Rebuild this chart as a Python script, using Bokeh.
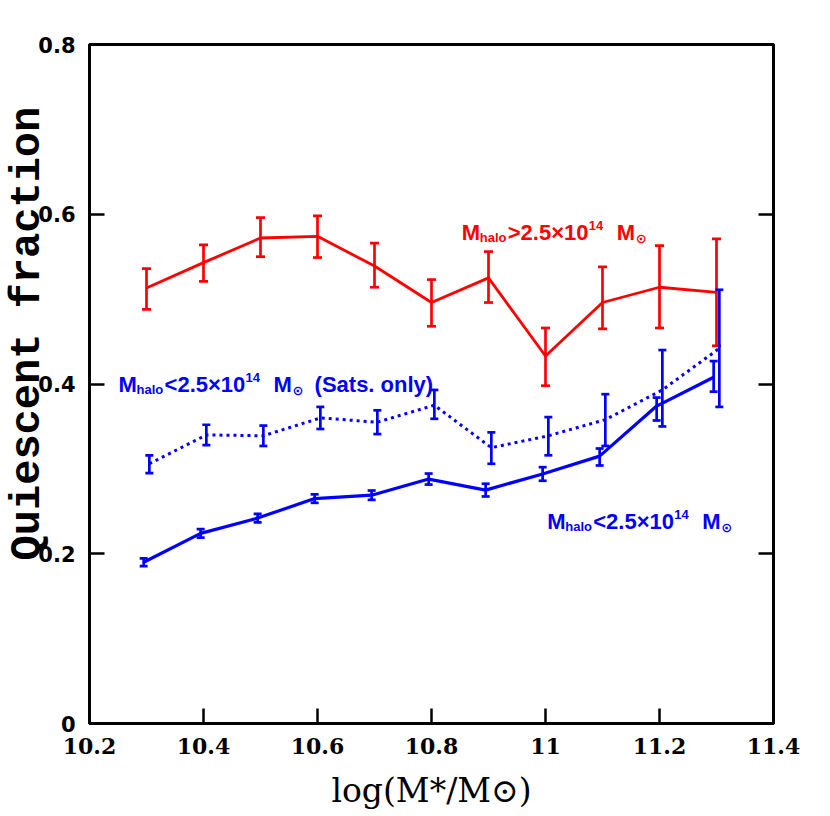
from bokeh.plotting import figure
from bokeh.models import (Range1d, FixedTicker, LinearAxis, Whisker, TeeHead,
                          ColumnDataSource, Label, CustomJSTickFormatter)
from bokeh.embed import file_html
from bokeh.resources import INLINE

# ---------------- data ----------------
logm = [10.3, 10.4, 10.5, 10.6, 10.7, 10.8, 10.9, 11.0, 11.1, 11.2, 11.3]

red_y  = [0.513, 0.543, 0.572, 0.574, 0.539, 0.496, 0.525, 0.433, 0.496, 0.514, 0.508]
red_hi = [0.536, 0.564, 0.596, 0.598, 0.566, 0.523, 0.556, 0.466, 0.538, 0.563, 0.571]
red_lo = [0.488, 0.521, 0.550, 0.549, 0.514, 0.468, 0.496, 0.398, 0.465, 0.466, 0.445]

blue_y  = [0.190, 0.224, 0.242, 0.265, 0.269, 0.288, 0.275, 0.294, 0.315, 0.374, 0.408]
blue_hi = [0.1945, 0.229, 0.247, 0.270, 0.2745, 0.2945, 0.2825, 0.302, 0.324, 0.384, 0.427]
blue_lo = [0.1855, 0.219, 0.237, 0.260, 0.2635, 0.2815, 0.2675, 0.286, 0.304, 0.357, 0.391]

sat_y  = [0.306, 0.340, 0.339, 0.360, 0.355, 0.375, 0.325, 0.339, 0.358, 0.393, 0.442]
sat_hi = [0.316, 0.352, 0.351, 0.373, 0.369, 0.393, 0.343, 0.361, 0.388, 0.440, 0.511]
sat_lo = [0.295, 0.328, 0.327, 0.347, 0.341, 0.359, 0.306, 0.316, 0.327, 0.350, 0.373]

x_ticks = [10.2, 10.4, 10.6, 10.8, 11.0, 11.2, 11.4]
y_ticks = [0.0, 0.2, 0.4, 0.6, 0.8]

x_title = "log(M*/M\u2299)"
y_title = "Quiescent fraction"

RED = "#ff0000"
BLUE = "#0000ff"

# ---------------- figure ----------------
p = figure(width=822, height=812,
           x_range=Range1d(10.2, 11.4), y_range=Range1d(0, 0.8),
           output_backend="svg", toolbar_location=None,
           min_border_left=89, min_border_right=49,
           min_border_top=44, min_border_bottom=83)
p.grid.visible = False
p.outline_line_color = "black"
p.outline_line_width = 3
p.background_fill_color = "white"
p.border_fill_color = "white"

fmt = CustomJSTickFormatter(code="return Number(tick.toFixed(1)).toString();")

for ax in (p.xaxis[0], p.yaxis[0]):
    ax.axis_line_width = 3
    ax.major_tick_in = 15
    ax.major_tick_out = 0
    ax.major_tick_line_width = 2.5
    ax.minor_tick_line_color = None
    ax.formatter = fmt
    ax.major_label_standoff = 14
    ax.major_label_text_color = "black"

p.xaxis.ticker = FixedTicker(ticks=x_ticks)
p.yaxis.ticker = FixedTicker(ticks=y_ticks)
p.xaxis.major_label_text_font = "DejaVu Serif"
p.xaxis.major_label_text_font_style = "bold"
p.xaxis.major_label_text_font_size = "22px"
p.yaxis.major_label_text_font = "DejaVu Sans"
p.yaxis.major_label_text_font_style = "bold"
p.yaxis.major_label_text_font_size = "21px"

p.xaxis.axis_label = x_title
p.xaxis.axis_label_text_font = "DejaVu Serif"
p.xaxis.axis_label_text_font_size = "33px"
p.xaxis.axis_label_text_font_style = "normal"
p.xaxis.axis_label_text_color = "black"
p.xaxis.axis_label_standoff = 14

# leading no-break spaces move the (centred) title up along the axis, as in the reference
p.yaxis.axis_label = "\u00a0" * 4 + y_title
p.yaxis.axis_label_text_font = "Liberation Mono"
p.yaxis.axis_label_text_font_size = "42px"
p.yaxis.axis_label_text_font_style = "bold"
p.yaxis.axis_label_text_color = "black"
p.yaxis.axis_label_standoff = -17

blank = CustomJSTickFormatter(code="return '';")
rax = LinearAxis(ticker=FixedTicker(ticks=y_ticks), formatter=blank,
                 axis_line_width=3, major_tick_in=15, major_tick_out=0,
                 major_tick_line_width=2.5, minor_tick_line_color=None,
                 major_label_standoff=0)
p.add_layout(rax, "right")

# ---------------- series ----------------
def series(xoff, ys, his, los, color, lw, dash, cap):
    xs = [v + xoff for v in logm]
    src = ColumnDataSource(dict(x=xs, y=ys, hi=his, lo=los))
    p.line("x", "y", source=src, line_color=color, line_width=lw, line_dash=dash)
    w = Whisker(base="x", upper="hi", lower="lo", source=src,
                line_color=color, line_width=2.7,
                upper_head=TeeHead(size=cap, line_color=color, line_width=2.7),
                lower_head=TeeHead(size=cap, line_color=color, line_width=2.7))
    p.add_layout(w)

series(0.0, red_y, red_hi, red_lo, RED, 2.8, "solid", 9)
series(0.005, sat_y, sat_hi, sat_lo, BLUE, 3, "3 4", 8)
series(-0.005, blue_y, blue_hi, blue_lo, BLUE, 3.2, "solid", 8)

# ---------------- in-plot labels ----------------
def pieces(x, y, color, rel, extra=None):
    items = [("M", 0, 0, 22, "Liberation Sans"),
             ("halo", 18, -5, 13, "Liberation Sans"),
             (rel + "2.5\u00d710", 46, 0, 22, "Liberation Sans"),
             ("14", 127, 7, 13, "Liberation Sans"),
             ("M", 155, 0, 22, "Liberation Sans"),
             ("\u2299", 174, -6, 13, "DejaVu Sans")]
    if extra:
        items.append((extra, 196, 0, 22, "Liberation Sans"))
    for text, dx, dy, size, font in items:
        p.add_layout(Label(x=x, y=y, x_offset=dx, y_offset=dy, text=text,
                           text_font=font, text_font_size=f"{size}px",
                           text_font_style="bold", text_color=color,
                           text_align="left", text_baseline="alphabetic"))

pieces(10.853, 0.578, RED, ">")
pieces(10.251, 0.399, BLUE, "<", "(Sats. only)")
pieces(11.003, 0.238, BLUE, "<")

open("out.html", "w").write(file_html(p, INLINE))
